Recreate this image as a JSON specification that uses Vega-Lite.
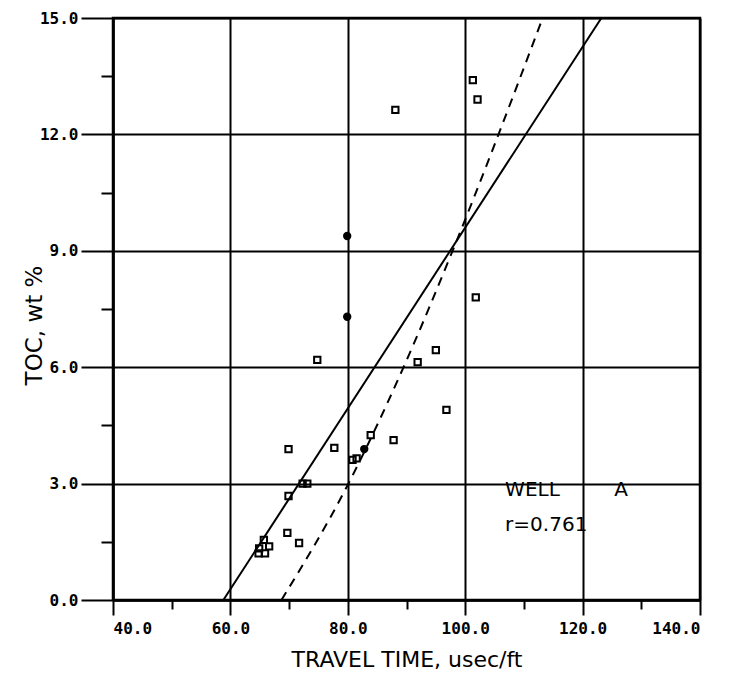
{
  "$schema": "https://vega.github.io/schema/vega-lite/v6.json",
  "width": 587,
  "height": 582,
  "autosize": {"type": "none"},
  "padding": {"left": 113, "top": 18, "right": 33, "bottom": 85},
  "background": "white",
  "config": {
    "view": {"stroke": "black", "strokeWidth": 2.5},
    "axis": {"domainColor": "black", "domainWidth": 2.5, "tickColor": "black", "tickWidth": 2, "gridColor": "black", "gridWidth": 2, "gridOpacity": 1, "labelFont": "DejaVu Sans Mono", "labelFontWeight": "bold", "labelFontSize": 16, "labelColor": "black", "titleFont": "DejaVu Sans", "titleFontWeight": "normal", "titleFontSize": 22, "titleColor": "black"}
  },
  "resolve": {"axis": {"x": "independent", "y": "independent"}},
  "datasets": {
    "open": [
      {"x": 101.3, "y": 13.4}, {"x": 102.1, "y": 12.9}, {"x": 88.1, "y": 12.63},
      {"x": 101.8, "y": 7.8}, {"x": 74.8, "y": 6.19}, {"x": 95.0, "y": 6.44},
      {"x": 91.9, "y": 6.13}, {"x": 96.8, "y": 4.9}, {"x": 83.9, "y": 4.25},
      {"x": 87.8, "y": 4.12}, {"x": 69.9, "y": 3.89}, {"x": 77.7, "y": 3.92},
      {"x": 80.8, "y": 3.61}, {"x": 81.5, "y": 3.65}, {"x": 72.3, "y": 3.0},
      {"x": 73.1, "y": 3.0}, {"x": 69.9, "y": 2.68}, {"x": 69.7, "y": 1.73},
      {"x": 71.7, "y": 1.47}, {"x": 65.7, "y": 1.55}, {"x": 64.9, "y": 1.33},
      {"x": 66.6, "y": 1.38}, {"x": 64.8, "y": 1.2}, {"x": 65.9, "y": 1.2}
    ],
    "filled": [
      {"x": 79.9, "y": 9.38}, {"x": 79.9, "y": 7.3}, {"x": 82.8, "y": 3.89}
    ],
    "solid": [{"x": 58.8, "y": 0}, {"x": 123.2, "y": 15}],
    "dashed": [
      {"x": 68.7, "y": 0}, {"x": 79.9, "y": 2.94}, {"x": 89.5, "y": 6.0},
      {"x": 97.85, "y": 9.0}, {"x": 113.2, "y": 15}
    ],
    "labels": [
      {"x": 106.8, "y": 2.84, "t": "WELL"},
      {"x": 125.4, "y": 2.84, "t": "A"},
      {"x": 106.8, "y": 1.93, "t": "r=0.761"}
    ],
    "minorx": [{"x": 50}, {"x": 70}, {"x": 90}, {"x": 110}, {"x": 130}]
  },
  "layer": [
    {
      "data": {"name": "solid"},
      "mark": {"type": "line", "color": "black", "strokeWidth": 2, "clip": true},
      "encoding": {
        "x": {"field": "x", "type": "quantitative", "scale": {"domain": [40, 140], "nice": false, "zero": false},
          "axis": {"values": [40, 60, 80, 100, 120, 140], "format": ".1f", "tickSize": 15, "labelPadding": 5, "grid": true, "title": "TRAVEL TIME,  usec/ft", "titlePadding": 13}},
        "y": {"field": "y", "type": "quantitative", "scale": {"domain": [0, 15], "nice": false},
          "axis": {"values": [0, 3, 6, 9, 12, 15], "format": ".1f", "tickSize": 32, "labelPadding": 3, "grid": true, "title": "TOC,   wt %", "titlePadding": -7, "titleY": 307, "titleFontSize": 23}}
      }
    },
    {
      "data": {"name": "minorx"},
      "mark": {"type": "point", "opacity": 0},
      "encoding": {
        "x": {"field": "x", "type": "quantitative",
          "axis": {"orient": "bottom", "values": [50, 70, 90, 110, 130], "labels": false, "tickSize": 9, "grid": false, "title": null, "domain": false}},
        "y": {"datum": 0, "type": "quantitative",
          "axis": {"orient": "left", "values": [1.5, 4.5, 7.5, 10.5, 13.5], "labels": false, "tickSize": 12, "grid": false, "title": null, "domain": false}}
      }
    },
    {
      "data": {"name": "dashed"},
      "mark": {"type": "line", "color": "black", "strokeWidth": 2, "strokeDash": [9, 7], "interpolate": "monotone", "clip": true},
      "encoding": {
        "x": {"field": "x", "type": "quantitative", "axis": null},
        "y": {"field": "y", "type": "quantitative", "axis": null}
      }
    },
    {
      "data": {"name": "open"},
      "mark": {"type": "point", "shape": "square", "filled": false, "color": "black", "opacity": 1, "strokeWidth": 2, "size": 40},
      "encoding": {
        "x": {"field": "x", "type": "quantitative", "axis": null},
        "y": {"field": "y", "type": "quantitative", "axis": null}
      }
    },
    {
      "data": {"name": "filled"},
      "mark": {"type": "point", "shape": "circle", "filled": true, "color": "black", "opacity": 1, "size": 70},
      "encoding": {
        "x": {"field": "x", "type": "quantitative", "axis": null},
        "y": {"field": "y", "type": "quantitative", "axis": null}
      }
    },
    {
      "data": {"name": "labels"},
      "mark": {"type": "text", "align": "left", "baseline": "middle", "font": "DejaVu Sans", "fontSize": 20, "color": "black"},
      "encoding": {
        "x": {"field": "x", "type": "quantitative", "axis": null},
        "y": {"field": "y", "type": "quantitative", "axis": null},
        "text": {"field": "t"}
      }
    }
  ]
}
